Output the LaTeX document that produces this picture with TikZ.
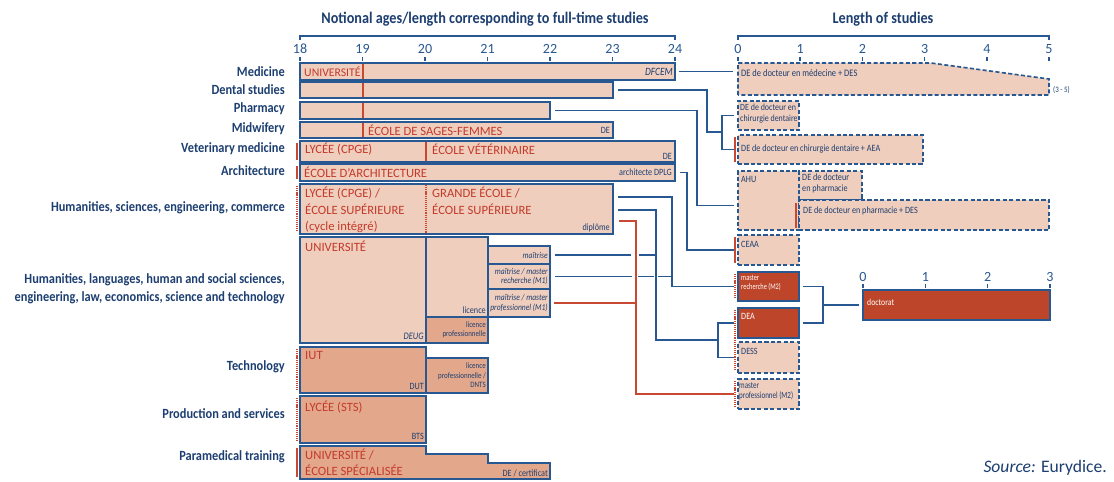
\documentclass[tikz,border=0pt]{standalone}
\usepackage{fontspec}
\setmainfont{Carlito}
\newfontfamily\labfont{Carlito}[FakeStretch=0.88]
\newfontfamily\smallfont{Carlito}[FakeStretch=0.85]
\newfontfamily\tinyfont{Carlito}[FakeStretch=0.75]
\usetikzlibrary{calc}

\definecolor{lineblue}{RGB}{40,88,145}
\definecolor{textblue}{RGB}{28,62,112}
\definecolor{pale}{RGB}{240,206,189}
\definecolor{midfill}{RGB}{227,168,140}
\definecolor{darkred}{RGB}{189,70,42}
\definecolor{redtext}{RGB}{196,58,42}
\definecolor{redline}{RGB}{200,72,50}

\tikzset{
  sz/.style 2 args={minimum width={(#1)*0.3mm}, minimum height={(#2)*0.3mm}},
  boxline/.style={draw=lineblue, fill=pale, line width=1.4pt},
  dashline/.style={boxline, dash pattern=on 3.5pt off 2pt},
  bar/.style={boxline, rectangle, anchor=north west, inner sep=0pt, outer sep=0pt},
  midbar/.style={bar, fill=midfill},
  dbar/.style={bar, dash pattern=on 3.5pt off 2pt},
  redbox/.style={bar, fill=darkred},
  ghost/.style={rectangle, anchor=north west, inner sep=0pt, outer sep=0pt},
  axis/.style={draw=lineblue, line width=1.3pt},
  link/.style={draw=lineblue, line width=1.3pt},
  redlink/.style={draw=redline, line width=1.3pt},
  redbar/.style={draw=redline, line width=1.6pt},
  reddots/.style={redbar, dash pattern=on 1pt off 0.8pt},
  lab/.style={anchor=east, inner sep=0pt, text=textblue, align=right,
    font=\labfont\bfseries\fontsize{12}{15.3}\selectfont},
  ttl/.style={inner sep=0pt, text=textblue, font=\labfont\bfseries\fontsize{13.8}{15}\selectfont},
  num/.style={inner sep=0pt, text=lineblue, font=\fontsize{12}{14}\selectfont},
  inst/.style={inner sep=0pt, text=redtext, align=left, font=\fontsize{10.8}{14}\selectfont},
  deg/.style={inner sep=0pt, text=textblue, font=\smallfont\fontsize{8.2}{9}\selectfont},
  smalldeg/.style={deg, font=\smallfont\fontsize{7}{8}\selectfont},
  itdeg/.style={deg, font=\smallfont\itshape\fontsize{7.6}{8}\selectfont},
  wdeg/.style={deg, text=white},
}

\begin{document}
\begin{tikzpicture}[x=0.3mm, y=-0.3mm]
\useasboundingbox (0,0) rectangle (1114,481);

% titles and axes
\node[ttl] (ttlage) at (485,19) {Notional ages/length corresponding to full-time studies};
\node[ttl] (ttllen) at (883,19) {Length of studies};
\draw[axis] (300,40) -- (300,36) -- (675,36) -- (675,40);
\draw[axis] (738,40) -- (738,36) -- (1049,36) -- (1049,40);
\foreach \a [count=\i from 0] in {18,...,24}{
  \node[num] (age\a) at ({300+62.5*\i},49) {\a};
  \draw[axis] ({300+62.5*\i},57) -- ++(0,4);
}
\foreach \n in {0,...,5}{
  \node[num] (len\n) at ({738+62.2*\n},49) {\n};
  \draw[axis] ({738+62.2*\n},57) -- ++(0,4);
}
\foreach \n in {0,...,3}{
  \node[num] (doc\n) at ({863+62.3*\n},277) {\n};
  \draw[axis] ({863+62.3*\n},284) -- ++(0,4);
}

% fields of study
\node[lab] (lmed) at (285,72) {Medicine};
\node[lab] (ldent) at (285,90) {Dental studies};
\node[lab] (lphar) at (285,109) {Pharmacy};
\node[lab] (lmidw) at (285,129) {Midwifery};
\node[lab] (lvet) at (285,149) {Veterinary medicine};
\node[lab] (larch) at (285,171) {Architecture};
\node[lab] (lhum) at (285,208) {Humanities, sciences, engineering, commerce};
\node[lab] (luniv) at (285,289) {Humanities, languages, human and social sciences,\\engineering, law, economics, science and technology};
\node[lab] (ltech) at (285,367) {Technology};
\node[lab] (lprod) at (285,414) {Production and services};
\node[lab] (lpara) at (285,457) {Paramedical training};

% full-time studies
\node[bar, sz={375}{17}] (med) at (300,63) {};
\node[bar, sz={313}{16}] (dent) at (300,82) {};
\node[bar, sz={250}{17}] (phar) at (300,102) {};
\node[bar, sz={313}{16}] (midw) at (300,122) {};
\node[bar, sz={375}{21}] (vet) at (300,141) {};
\node[bar, sz={375}{17}] (arch) at (300,164) {};
\node[bar, sz={313}{50}] (hum) at (300,184) {};
\node[bar, sz={126}{106}] (univ) at (300,237) {};
\node[bar, sz={62}{80}] (lic) at (426,237) {};
\node[midbar, sz={62}{26}] (licpro) at (426,317) {};
\node[bar, sz={62}{18}] (mait) at (488,246) {};
\node[bar, sz={62}{25}] (mrm1) at (488,264) {};
\node[bar, sz={62}{28}] (mpm1) at (488,289) {};
\node[midbar, sz={126}{46}] (iut) at (300,347) {};
\node[midbar, sz={62}{35}] (dnts) at (426,358) {};
\node[midbar, sz={126}{47}] (sts) at (300,396) {};
\node[ghost, sz={250}{33}] (para) at (300,446) {};
\draw[boxline, fill=midfill] (para.north west) -- ([shift={(126,0)}]para.north west)
  -- ([shift={(126,8)}]para.north west) -- ([shift={(188,8)}]para.north west)
  -- ([shift={(188,17)}]para.north west) -- ([shift={(250,17)}]para.north west)
  -- (para.south east) -- (para.south west) -- cycle;

\foreach \b in {med,dent,phar,midw}
  \draw[redbar] ([shift={(63,1)}]\b.north west) -- ([shift={(63,-1)}]\b.south west);
\draw[redbar] ([shift={(126,1)}]vet.north west) -- ([shift={(126,-1)}]vet.south west);
\draw[reddots] ([shift={(126,1)}]hum.north west) -- ([shift={(126,-1)}]hum.south west);

\foreach \b in {vet,arch,para}
  \draw[redbar] ([shift={(-3,2)}]\b.north west) -- ([shift={(-3,-2)}]\b.south west);
\foreach \b in {hum,iut,sts}
  \draw[reddots] ([shift={(-3,2)}]\b.north west) -- ([shift={(-3,-2)}]\b.south west);

% texts in the bars
\node[inst, anchor=west, font=\fontsize{10}{11}\selectfont] (tmed) at ([shift={(4,0)}]med.west) {UNIVERSITÉ};
\node[deg, anchor=east, font=\smallfont\itshape\fontsize{9.5}{10}\selectfont] (tdfcem) at ([shift={(-2,0)}]med.east) {DFCEM};
\node[inst, anchor=west] (tmidw) at ([shift={(68,0)}]midw.west) {ÉCOLE DE SAGES-FEMMES};
\node[deg, anchor=east] (tmidwde) at ([shift={(-3,0)}]midw.east) {DE};
\node[inst, anchor=west] (tvet1) at ([shift={(5,-2)}]vet.west) {LYCÉE (CPGE)};
\node[inst, anchor=west] (tvet2) at ([shift={(132,-2)}]vet.west) {ÉCOLE VÉTÉRINAIRE};
\node[deg, anchor=south east] (tvetde) at ([shift={(-3,-2)}]vet.south east) {DE};
\node[inst, anchor=west] (tarch) at ([shift={(4,0)}]arch.west) {ÉCOLE D'ARCHITECTURE};
\node[deg, anchor=east] (tarchde) at ([shift={(-3,0)}]arch.east) {architecte DPLG};
\node[inst, anchor=north west] (thum1) at ([shift={(5,3)}]hum.north west) {LYCÉE (CPGE) /\\ÉCOLE SUPÉRIEURE\\(cycle intégré)};
\node[inst, anchor=north west] (thum2) at ([shift={(132,3)}]hum.north west) {GRANDE ÉCOLE /\\ÉCOLE SUPÉRIEURE};
\node[deg, anchor=south east] (thumde) at ([shift={(-3,-2)}]hum.south east) {diplôme};
\node[inst, anchor=north west] (tuniv) at ([shift={(5,4)}]univ.north west) {UNIVERSITÉ};
\node[deg, anchor=south east, font=\smallfont\itshape\fontsize{8.5}{9}\selectfont] (tdeug) at ([shift={(-2,-3)}]univ.south east) {DEUG};
\node[deg, anchor=south east] (tlic) at ([shift={(-2,-3)}]lic.south east) {licence};
\node[smalldeg, anchor=east, align=right] (tlicpro) at ([shift={(-2,0)}]licpro.east) {licence\\professionnelle};
\node[itdeg, anchor=east] (tmait) at ([shift={(-2,0)}]mait.east) {maîtrise};
\node[itdeg, anchor=east, align=right] (tmrm1) at ([shift={(-2,0)}]mrm1.east) {maîtrise / master\\recherche (M1)};
\node[itdeg, anchor=east, align=right] (tmpm1) at ([shift={(-2,0)}]mpm1.east) {maîtrise / master\\professionnel (M1)};
\node[inst, anchor=north west] (tiut) at ([shift={(5,4)}]iut.north west) {IUT};
\node[deg, anchor=south east] (tdut) at ([shift={(-2,-3)}]iut.south east) {DUT};
\node[smalldeg, anchor=east, align=right] (tdnts) at ([shift={(-2,0)}]dnts.east) {licence\\professionnelle /\\DNTS};
\node[inst, anchor=north west] (tsts) at ([shift={(5,5)}]sts.north west) {LYCÉE (STS)};
\node[deg, anchor=south east] (tbts) at ([shift={(-2,-3)}]sts.south east) {BTS};
\node[inst, anchor=north west, font=\fontsize{10.8}{13}\selectfont] (tpara) at ([shift={(5,3)}]para.north west) {UNIVERSITÉ /\\ÉCOLE SPÉCIALISÉE};
\node[deg, anchor=south east] (tparade) at ([shift={(-2,-2)}]para.south east) {DE / certificat};

% length of studies
\node[ghost, sz={311}{32}] (meddes) at (738,63) {};
\draw[dashline] (meddes.south west) -- (meddes.north west) -- ([shift={(193,0)}]meddes.north west)
  -- ([shift={(0,16)}]meddes.north east) -- (meddes.south east) -- cycle;
\node[dbar, sz={61}{29}] (dds) at (738,101) {};
\node[dbar, sz={185}{29}] (aea) at (738,135) {};
\node[dbar, sz={61}{59}] (ahu) at (738,171) {};
\node[dbar, sz={63}{29}] (ddp) at (799,171) {};
\node[dbar, sz={250}{30}] (pdes) at (799,200) {};
\node[dbar, sz={61}{30}] (ceaa) at (738,235) {};
\node[redbox, sz={61}{29}] (mrech) at (738,272) {};
\node[redbox, sz={61}{30}] (dea) at (738,308) {};
\node[dbar, sz={61}{31}] (dess) at (738,342) {};
\node[dbar, sz={61}{30}] (mpro) at (738,379) {};
\node[redbox, sz={187}{30}] (doct) at (863,290) {};

\foreach \b in {aea,ceaa}
  \draw[redbar] ([shift={(-3,2)}]\b.north west) -- ([shift={(-3,-2)}]\b.south west);
\draw[redbar] ([shift={(-3,3)}]pdes.north west) -- ([shift={(-3,-2)}]pdes.south west);
\foreach \b in {mrech,mpro}
  \draw[reddots] ([shift={(-3,2)}]\b.north west) -- ([shift={(-3,-2)}]\b.south west);
\draw[reddots] ([shift={(-3,2)}]dea.north west) -- ([shift={(-3,-2)}]dess.south west);

\node[deg, anchor=west, font=\smallfont\fontsize{8.5}{9}\selectfont] (tmeddes) at ([shift={(3,10)}]meddes.north west) {DE de docteur en médecine + DES};
\node[smalldeg, anchor=west] (trange) at ([shift={(4,-5)}]meddes.south east) {(3 - 5)};
\node[deg, anchor=north west, align=left, font=\smallfont\fontsize{8}{9}\selectfont] (tdds) at ([shift={(2,3)}]dds.north west) {DE de docteur en\\chirurgie dentaire};
\node[deg, anchor=west] (taea) at ([shift={(3,-1)}]aea.west) {DE de docteur en chirurgie dentaire + AEA};
\node[deg, anchor=north west] (tahu) at ([shift={(3,5)}]ahu.north west) {AHU};
\node[deg, anchor=north west, align=left] (tddp) at ([shift={(3,3)}]ddp.north west) {DE de docteur\\ en pharmacie};
\node[deg, anchor=west] (tpdes) at ([shift={(4,-4)}]pdes.west) {DE de docteur en pharmacie + DES};
\node[deg, anchor=north west] (tceaa) at ([shift={(3,6)}]ceaa.north west) {CEAA};
\node[wdeg, anchor=north west, align=left, font=\tinyfont\fontsize{7.2}{8}\selectfont] (tmrech) at ([shift={(3,3)}]mrech.north west) {master\\recherche (M2)};
\node[wdeg, anchor=north west] (tdea) at ([shift={(3,5)}]dea.north west) {DEA};
\node[deg, anchor=north west] (tdess) at ([shift={(3,6)}]dess.north west) {DESS};
\node[deg, anchor=north west, align=left, font=\tinyfont\fontsize{8}{8.5}\selectfont] (tmpro) at ([shift={(1,3)}]mpro.north west) {master\\professionnel (M2)};
\node[wdeg, anchor=west, font=\smallfont\fontsize{7.8}{9}\selectfont] (tdoct) at ([shift={(4,-3)}]doct.west) {doctorat};

% connections
\coordinate (dbr) at (722,132);
\coordinate (dbk) at (718,340);
\coordinate (phd) at (823,305);
\draw[link] ([shift={(4,0)}]med.east) -- ($(med.east -| meddes.west)+(-5,0)$);
\draw[link] ([shift={(5,0)}]dent.east) -| ($(dbr)+(-15,0)$) -- (dbr);
\draw[link] ($(dds.west)+(-4,0)$) -| (dbr) |- ($(aea.west)+(-4,0)$);
\draw[link] ([shift={(5,0)}]phar.east) -| ($(ahu.west)+(-41,5)$) -- ($(ahu.west)+(-4,5)$);
\draw[link] ([shift={(5,0)}]arch.east) -| ($(ceaa.west)+(-51,0)$) -- ($(ceaa.west)+(-4,0)$);
\draw[link] ([shift={(5,13)}]hum.north east) -| ($(mrech.west)+(-66,0)$) -- ($(mrech.west)+(-4,0)$);
\draw[link] ([shift={(5,26)}]hum.north east) -| ($(dbk)+(-62,0)$) -- (dbk);
\draw[link] ($(dea.west)+(-4,0)$) -| (dbk) |- ($(dess.west)+(-4,0)$);
\draw[redlink] ([shift={(6,37)}]hum.north east) -| ($(mpro.west)+(-102,0)$) -- ($(mpro.west)+(-4,0)$);
\draw[redlink] ([shift={(4,0)}]mpm1.east) -- ($(mpm1.east)+(86,0)$);
\draw[link] ([shift={(5,0)}]mait.east) -- ++(76,0) ++(8,0) -- ++(17,0);
\draw[link] ([shift={(5,0)}]mrm1.east) -- ++(77,0) ++(6,0) -- ++(16,0) ++(4,0) -- ++(14,0);
\draw[link] ($(mrech.east)+(4,0)$) -| (phd) |- ($(dea.east)+(4,0)$);
\draw[link] (phd) -- ($(doct.west)+(-4,0)$);

\node[anchor=east, inner sep=0pt, text=textblue, font=\fontsize{15}{17}\selectfont] (src) at (1107,468) {\textit{Source:} Eurydice.};
\end{tikzpicture}
\end{document}
